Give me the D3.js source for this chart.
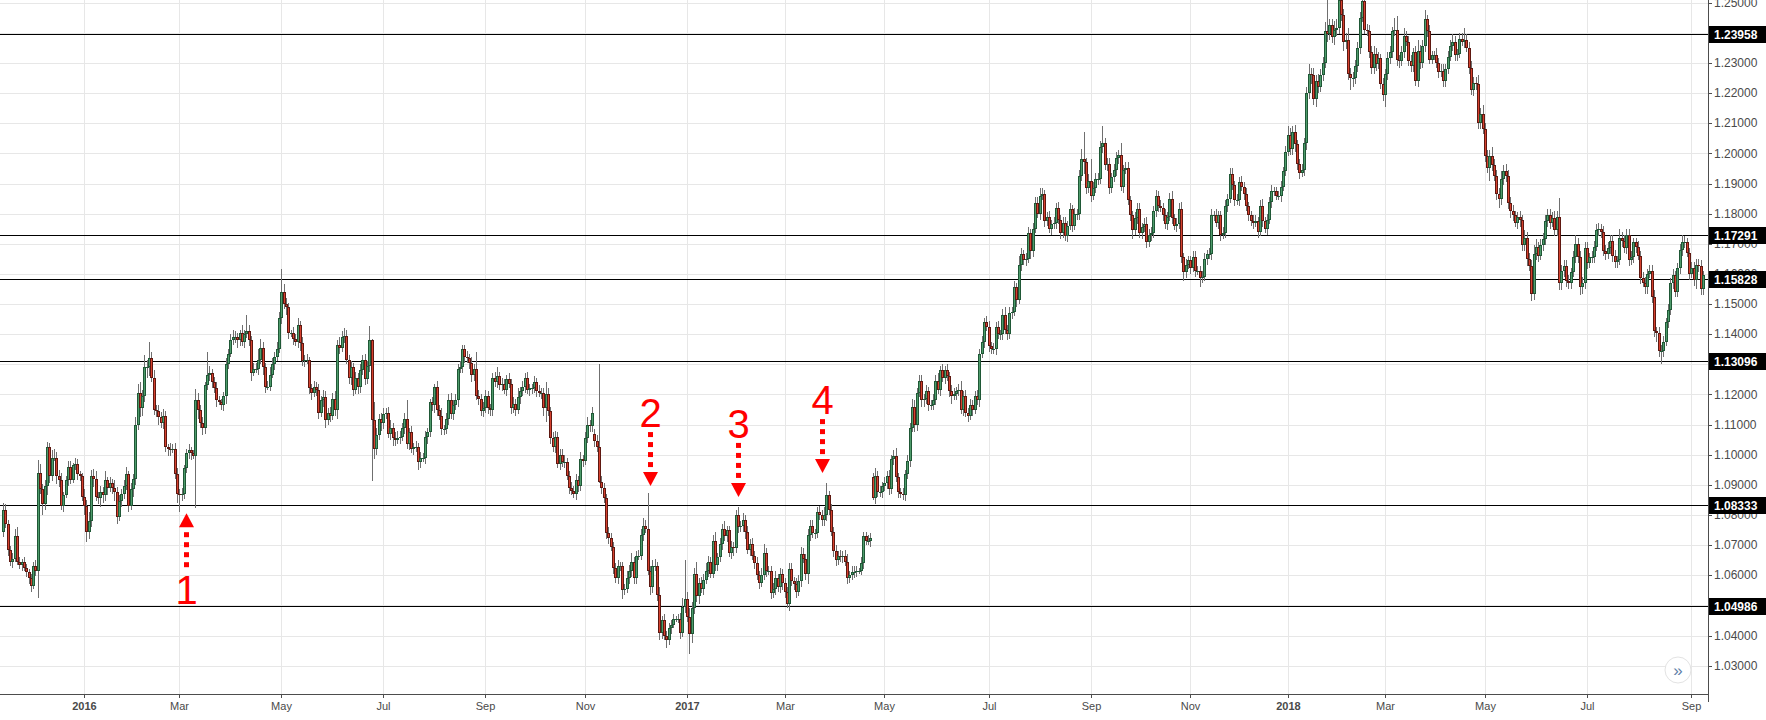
<!DOCTYPE html>
<html><head><meta charset="utf-8">
<script src="https://cdn.jsdelivr.net/npm/d3@7/dist/d3.min.js"></script>
<style>
html,body{margin:0;padding:0;background:#fff;overflow:hidden;}
svg{display:block;font-family:"Liberation Sans",Arial,sans-serif;}
</style></head><body>
<svg id="chart" width="1766" height="720"></svg>
<script>
// ---------- DATA (EUR/USD daily, prices as pips above 1.0000) ----------
const firstDay = "2015-11-12";
const lastDay = "2018-09-10";
const closedDays = ["2015-12-25", "2016-01-01", "2017-12-25", "2018-01-01"];

const opens = [
// 2015 Nov
745,815,770,685,645,655,730,645,635,645,625,610,590,
// 2015 Dec
565,630,615,940,885,835,895,1025,930,990,990,930,915,830,865,915,960,915,965,970,935,930,
// 2016 Jan
860,830,745,780,930,920,860,855,875,865,915,890,905,890,875,795,845,870,895,935,
// 2016 Feb
830,885,920,1100,1205,1155,1195,1290,1290,1320,1255,1150,1145,1125,1105,1130,1025,1020,1015,1020,935,
// 2016 Mar
870,865,870,955,1005,1015,1005,995,1180,1150,1105,1090,1230,1265,1270,1240,1220,1180,1175,1165,1195,1300,1335,
// 2016 Apr
1380,1390,1390,1380,1405,1375,1400,1410,1380,1270,1285,1285,1315,1355,1290,1225,1225,1265,1300,1325,1350,
// 2016 May
1455,1540,1500,1490,1405,1405,1385,1375,1430,1370,1310,1315,1315,1220,1205,1225,1215,1140,1180,1190,1115,1140,
// 2016 Jun
1130,1185,1150,1365,1355,1390,1395,1315,1255,1290,1215,1255,1225,1280,1315,1250,1295,1380,1115,1020,1065,1120,
// 2016 Jul
1105,1135,1140,1070,1090,1055,1050,1055,1060,1090,1120,1035,1075,1020,1025,1025,975,990,990,1060,1075,
// 2016 Aug
1175,1165,1225,1150,1130,1085,1085,1120,1180,1135,1165,1180,1285,1290,1350,1325,1320,1305,1265,1285,1195,1185,1145,
// 2016 Sep
1155,1195,1155,1150,1255,1240,1260,1230,1235,1215,1250,1235,1155,1170,1150,1190,1210,1225,1255,1215,1220,1220,
// 2016 Oct
1240,1210,1205,1205,1155,1200,1145,1055,1025,1060,970,1000,975,975,930,890,880,870,915,895,985,
// 2016 Nov
980,1055,1100,1095,1070,1045,1025,910,890,855,740,725,695,625,590,630,630,550,555,590,615,645,
// 2016 Dec
590,665,665,735,765,755,615,560,630,630,535,410,450,400,385,425,435,455,455,455,410,495,
// 2017 Jan
520,460,405,490,605,530,575,555,585,615,645,605,715,635,660,705,755,730,750,675,695,690,
// 2017 Feb
800,760,765,785,745,685,705,665,640,600,575,600,675,615,615,540,555,590,560,605,
// 2017 Mar
575,545,505,620,580,570,545,580,670,655,605,735,765,740,740,810,800,785,800,865,815,745,680,
// 2017 Apr
650,665,660,665,645,590,600,610,610,615,615,640,730,715,715,925,855,930,875,875,
// 2017 May
895,905,930,885,985,995,925,875,870,865,935,980,1090,1160,1100,1205,1245,1180,1185,1210,1165,1165,1180,
// 2017 Jun
1245,1215,1280,1255,1280,1260,1210,1195,1200,1210,1215,1150,1195,1140,1130,1165,1150,1195,1180,1335,1375,1440,
// 2017 Jul
1425,1360,1350,1350,1425,1400,1400,1465,1415,1400,1470,1475,1555,1515,1630,1665,1645,1650,1735,1675,1750,
// 2017 Aug
1835,1800,1860,1865,1775,1790,1750,1765,1770,1820,1780,1735,1770,1725,1760,1815,1760,1800,1800,1925,1980,1970,1885,
// 2017 Sep
1910,1860,1885,1915,1915,2020,2035,1960,1965,1885,1920,1945,1985,1995,1890,1945,1950,1845,1795,1745,1785,
// 2017 Oct
1815,1735,1755,1765,1705,1730,1735,1810,1860,1825,1820,1795,1765,1790,1850,1785,1760,1765,1815,1655,1605,1630,
// 2017 Nov
1645,1620,1655,1610,1610,1585,1590,1650,1665,1665,1795,1795,1770,1795,1730,1735,1825,1850,1930,1895,1845,1845,
// 2017 Dec
1905,1890,1865,1825,1795,1775,1770,1775,1740,1825,1775,1750,1780,1840,1875,1875,1860,1860,1890,1940,
// 2018 Jan
2005,2060,2015,2070,2030,1965,1935,1945,2035,2200,2265,2260,2180,2240,2220,2260,2300,2405,2395,2425,2385,2410,
// 2018 Feb
2415,2510,2460,2370,2375,2265,2250,2250,2290,2350,2450,2505,2410,2405,2335,2285,2330,2295,2315,2230,
// 2018 Mar
2195,2265,2315,2335,2405,2410,2310,2305,2335,2390,2370,2305,2290,2335,2240,2340,2300,2355,2445,2405,2310,2325,
// 2018 Apr
2325,2300,2270,2275,2240,2280,2320,2355,2370,2325,2330,2380,2370,2375,2350,2285,2210,2235,2230,2100,2130,
// 2018 May
2080,1990,1950,1990,1960,1925,1865,1850,1915,1940,1925,1835,1810,1795,1770,1790,1780,1695,1720,1650,1625,1535,1665,
// 2018 Jun
1690,1660,1695,1715,1775,1795,1770,1785,1745,1790,1570,1610,1625,1575,1570,1605,1655,1700,1655,1555,1570,
// 2018 Jul
1685,1635,1655,1655,1690,1745,1750,1740,1675,1665,1685,1710,1660,1640,1645,1720,1710,1685,1730,1645,1655,1705,
// 2018 Aug
1690,1660,1585,1570,1555,1600,1610,1525,1410,1405,1345,1345,1375,1440,1480,1570,1595,1540,1620,1680,1705,1705,1670,
// 2018 Sep
1600,1620,1580,1630,1625,1550
];

const closes = [
// 2015 Nov
815,770,685,645,655,730,645,635,645,625,610,590,565,
// 2015 Dec
630,615,940,885,835,895,1025,930,990,990,930,915,830,865,915,960,915,965,970,935,930,860,
// 2016 Jan
830,745,780,930,920,860,855,875,865,915,890,905,890,875,795,845,870,895,935,830,
// 2016 Feb
885,920,1100,1205,1155,1195,1290,1290,1320,1255,1150,1145,1125,1105,1130,1025,1020,1015,1020,935,870,
// 2016 Mar
865,870,955,1005,1015,1005,995,1180,1150,1105,1090,1230,1265,1270,1240,1220,1180,1175,1165,1195,1300,1335,1380,
// 2016 Apr
1390,1390,1380,1405,1375,1400,1410,1380,1270,1285,1285,1315,1355,1290,1225,1225,1265,1300,1325,1350,1455,
// 2016 May
1540,1500,1490,1405,1405,1385,1375,1430,1370,1310,1315,1315,1220,1205,1225,1215,1140,1180,1190,1115,1140,1130,
// 2016 Jun
1185,1150,1365,1355,1390,1395,1315,1255,1290,1215,1255,1225,1280,1315,1250,1295,1380,1115,1020,1065,1120,1105,
// 2016 Jul
1135,1140,1070,1090,1055,1050,1055,1060,1090,1120,1035,1075,1020,1025,1025,975,990,990,1060,1075,1175,
// 2016 Aug
1165,1225,1150,1130,1085,1085,1120,1180,1135,1165,1180,1285,1290,1350,1325,1320,1305,1265,1285,1195,1185,1145,1155,
// 2016 Sep
1195,1155,1150,1255,1240,1260,1230,1235,1215,1250,1235,1155,1170,1150,1190,1210,1225,1255,1215,1220,1220,1240,
// 2016 Oct
1210,1205,1205,1155,1200,1145,1055,1025,1060,970,1000,975,975,930,890,880,870,915,895,985,980,
// 2016 Nov
1055,1100,1095,1140,1045,1025,910,890,855,740,725,695,625,590,630,630,550,555,590,615,645,590,
// 2016 Dec
665,665,735,765,755,615,560,630,630,535,410,450,400,385,425,435,455,455,455,410,495,520,
// 2017 Jan
460,405,490,605,530,575,555,585,615,645,605,715,635,660,705,755,730,750,675,695,690,800,
// 2017 Feb
760,765,785,745,685,705,665,640,600,575,600,675,615,615,540,555,590,560,605,575,
// 2017 Mar
545,505,620,580,570,545,580,670,655,605,735,765,740,740,810,800,785,800,865,815,745,680,650,
// 2017 Apr
665,660,665,645,590,600,610,610,615,615,640,730,715,715,725,855,930,875,875,895,
// 2017 May
905,930,885,985,995,925,875,870,865,935,980,1090,1160,1100,1205,1245,1180,1185,1210,1165,1165,1180,1245,
// 2017 Jun
1215,1280,1255,1280,1260,1210,1195,1200,1210,1215,1150,1195,1140,1130,1165,1150,1195,1180,1335,1375,1440,1425,
// 2017 Jul
1360,1350,1350,1425,1400,1400,1465,1415,1400,1470,1475,1555,1515,1630,1665,1645,1650,1735,1675,1750,1835,
// 2017 Aug
1800,1860,1865,1775,1790,1750,1765,1770,1820,1780,1735,1770,1725,1760,1815,1760,1800,1800,1925,1980,1970,1885,1910,
// 2017 Sep
1860,1885,1915,1915,2020,2035,1960,1965,1885,1920,1945,1985,1995,1890,1945,1950,1845,1795,1745,1785,1815,
// 2017 Oct
1735,1755,1765,1705,1730,1735,1810,1860,1825,1820,1795,1765,1790,1850,1785,1760,1765,1815,1655,1605,1630,1645,
// 2017 Nov
1620,1655,1610,1610,1585,1590,1650,1665,1665,1795,1795,1770,1795,1730,1735,1825,1850,1930,1895,1845,1845,1905,
// 2017 Dec
1890,1865,1825,1795,1775,1770,1775,1740,1825,1775,1750,1780,1840,1875,1875,1860,1860,1890,1940,2005,
// 2018 Jan
2060,2015,2070,2030,1965,1935,1945,2035,2200,2265,2260,2180,2240,2220,2260,2300,2405,2395,2425,2385,2410,2415,
// 2018 Feb
2510,2460,2370,2375,2265,2250,2250,2290,2350,2450,2505,2410,2405,2335,2285,2330,2295,2315,2230,2195,
// 2018 Mar
2265,2315,2335,2405,2410,2310,2305,2335,2390,2370,2305,2290,2335,2240,2340,2300,2355,2445,2405,2310,2325,2325,
// 2018 Apr
2300,2270,2275,2240,2280,2320,2355,2370,2325,2330,2380,2370,2375,2350,2285,2210,2235,2230,2100,2130,2080,
// 2018 May
1990,1950,1990,1960,1925,1865,1850,1915,1940,1925,1835,1810,1795,1770,1790,1780,1695,1720,1650,1625,1535,1665,1690,
// 2018 Jun
1660,1695,1715,1775,1795,1770,1785,1745,1790,1570,1610,1625,1575,1570,1605,1655,1700,1655,1555,1570,1685,
// 2018 Jul
1635,1655,1655,1690,1745,1750,1740,1675,1665,1685,1710,1660,1640,1645,1720,1710,1685,1730,1645,1655,1705,1690,
// 2018 Aug
1660,1585,1570,1555,1600,1610,1525,1410,1405,1345,1345,1375,1440,1480,1570,1595,1540,1620,1680,1705,1705,1670,1600,
// 2018 Sep
1620,1580,1630,1625,1550,1595
];

// upper shadow length above the body (pips)
const wickUp = [
25,20,15,12,18,22,30,15,10,14,12,10,15,
15,20,41,28,18,22,17,15,25,30,18,20,25,12,15,20,18,8,20,15,12,10,
25,20,30,18,22,25,15,20,18,30,12,20,15,25,18,20,15,22,25,12,
20,15,25,30,35,20,40,25,55,20,25,15,20,18,22,15,12,20,15,18,20,
15,20,10,15,20,10,12,38,25,15,20,12,77,25,15,18,20,15,10,12,20,15,20,
25,20,15,10,25,15,55,20,15,20,18,35,30,20,15,20,25,20,15,25,20,
76,25,20,15,10,20,15,25,15,20,15,20,10,15,20,15,20,15,25,20,15,20,
20,25,15,25,20,25,20,15,20,15,20,15,20,15,20,15,47,5,60,25,15,20,
20,15,20,25,15,20,25,20,15,20,60,15,20,15,20,15,20,15,20,15,10,
15,10,20,15,25,15,20,20,25,15,20,15,20,15,15,20,15,20,15,55,20,15,20,
20,15,15,15,20,30,15,20,15,15,20,15,20,15,30,15,20,15,20,15,15,20,
15,20,15,15,40,20,15,20,20,15,20,20,25,15,15,20,15,20,15,25,15,
20,25,15,20,15,20,275,20,15,15,20,15,15,15,20,15,15,15,25,20,30,15,
15,20,20,25,20,119,15,20,25,15,25,15,20,15,15,15,15,10,15,20,30,132,
25,30,20,20,40,15,20,20,25,20,15,20,30,15,20,15,25,15,15,20,15,15,
25,15,20,15,20,15,20,15,20,15,25,30,15,15,15,20,25,15,20,15,
15,15,20,20,15,20,20,25,20,15,20,20,20,15,15,20,15,25,41,15,20,15,20,
15,20,15,20,25,15,20,20,15,10,20,15,15,20,15,15,25,15,20,15,
20,15,20,15,20,28,15,15,20,15,20,15,25,20,15,20,20,15,20,15,15,20,20,
25,15,20,15,20,15,20,20,15,20,30,15,20,15,20,15,15,20,15,20,15,20,
20,15,20,15,20,15,20,25,15,20,15,20,15,30,20,15,20,20,15,20,20,
20,25,20,15,15,20,15,20,15,20,15,20,20,15,20,15,20,15,20,35,90,15,20,
70,20,20,20,20,57,15,20,20,15,20,20,15,40,15,20,20,15,15,20,20,
20,15,20,25,20,20,15,20,15,20,15,20,15,20,25,15,20,20,25,15,20,15,
15,20,20,15,15,20,20,15,20,20,15,20,15,15,20,20,15,20,20,15,20,15,
20,15,20,15,15,20,20,15,20,25,15,20,15,20,15,15,15,20,15,20,
30,25,20,25,15,15,20,15,20,30,20,25,20,25,20,20,30,132,20,20,30,30,
35,30,20,25,40,20,20,20,20,20,50,20,20,20,20,25,20,20,15,20,
15,20,20,15,40,45,15,20,25,15,20,20,15,20,35,20,20,30,15,20,15,15,
25,15,20,20,15,20,20,25,20,15,20,20,40,20,20,20,20,20,30,20,30,
20,20,20,30,20,20,20,25,20,25,20,20,20,15,15,20,15,25,20,20,20,30,25,
15,20,20,20,20,20,20,25,20,62,20,20,20,20,15,20,30,20,20,20,20,
20,15,20,20,20,20,15,20,20,20,20,20,20,15,30,20,20,20,20,20,15,15,
20,15,20,20,15,20,20,20,15,20,20,20,15,20,15,20,15,15,20,25,20,15,15,
20,20,20,20,20,15
];

// lower shadow length below the body (pips)
const wickDown = [
18,12,20,15,22,10,12,14,20,10,15,18,20,
12,18,90,15,35,20,30,25,18,12,28,22,15,20,10,18,12,10,15,20,18,14,
30,35,25,20,28,15,20,30,25,18,22,15,20,30,25,15,20,18,12,20,
15,25,20,18,30,25,20,35,30,15,18,20,25,15,20,15,25,18,10,15,30,
55,20,18,15,20,22,10,173,30,15,25,20,15,20,18,15,20,10,15,20,25,15,12,
15,20,25,20,15,20,12,20,25,10,15,20,15,25,20,10,15,12,20,15,12,
20,15,25,20,15,20,15,20,25,15,20,15,20,25,15,20,20,15,20,25,15,20,
15,20,30,20,15,20,15,20,25,20,15,25,20,15,20,15,20,203,35,20,15,25,
20,15,15,20,25,20,15,20,15,20,15,20,15,20,15,25,20,15,20,25,15,
20,25,20,15,20,20,15,20,15,20,15,20,15,20,20,15,20,25,20,15,20,15,20,
15,20,20,20,15,20,15,20,15,20,15,20,15,20,15,20,15,20,15,20,20,15,
20,15,20,25,45,15,20,15,20,15,20,15,20,15,20,15,15,20,20,15,20,
15,15,20,20,20,15,5,20,15,20,20,15,20,15,20,15,30,15,15,20,20,20,
20,15,15,20,15,15,25,20,15,20,25,20,15,25,15,20,10,10,15,20,15,20,
15,65,30,20,20,25,15,20,15,20,15,15,20,20,15,20,15,20,15,20,25,15,
20,15,20,25,15,20,15,20,15,20,15,15,20,15,20,15,20,15,20,25,
20,15,25,15,20,20,15,20,15,20,35,20,15,20,15,15,20,20,20,15,15,20,20,
15,15,20,15,20,15,15,20,15,10,15,20,15,15,20,5,20,15,15,20,
15,20,20,15,20,15,20,15,15,20,15,20,15,25,20,15,20,20,15,20,15,15,15,
15,20,15,20,15,20,25,15,20,15,15,20,15,20,15,20,15,15,20,15,20,15,
20,15,15,20,15,20,20,15,20,15,20,15,25,15,20,15,20,15,25,20,15,
15,20,15,20,15,15,20,15,20,15,20,15,15,20,15,20,15,20,20,15,40,20,15,
20,15,15,20,15,20,15,20,20,15,15,20,20,15,20,15,15,20,30,15,20,
15,20,15,20,15,20,15,20,20,15,20,15,20,15,20,15,20,15,20,30,20,15,
20,15,20,15,30,15,15,20,15,20,20,15,20,20,15,15,20,15,15,20,15,20,
15,20,15,20,15,20,15,20,15,20,15,20,15,20,15,15,15,20,15,15,
15,20,20,25,20,20,15,20,25,20,30,20,25,20,15,20,15,25,20,20,25,20,
20,20,30,25,20,40,30,20,20,20,15,15,15,20,20,20,20,15,15,20,
40,20,20,20,15,20,20,15,20,15,15,20,20,15,20,20,15,20,20,15,15,15,
15,20,15,20,20,15,15,15,20,20,15,15,20,15,20,15,20,20,20,20,15,
20,15,40,20,15,20,30,20,20,20,20,25,20,15,20,25,20,20,25,15,25,20,20,
20,15,20,20,20,20,15,20,20,25,25,20,20,20,20,15,20,20,25,20,20,
20,15,20,20,15,20,20,15,20,15,20,20,20,20,15,20,15,20,20,15,20,20,
15,20,15,20,20,15,20,20,30,20,44,20,15,20,15,20,15,15,20,20,20,15,20,
15,20,30,20,20,20
];

// horizontal support / resistance levels drawn on the chart
const levels = [1.23958, 1.17291, 1.15828, 1.13096, 1.08333, 1.04986];

// price-axis tick values
const priceTicks = [1.03,1.04,1.05,1.06,1.07,1.08,1.09,1.10,1.11,1.12,1.13,1.14,1.15,1.16,1.17,1.18,1.19,1.20,1.21,1.22,1.23,1.24,1.25];

// numbered arrow annotations
const markerLabels = ["1", "2", "3", "4"];
const markerDates  = ["2016-03-04", "2016-12-09", "2017-02-01", "2017-03-23"];
const markerTips   = [1.0806, 1.0896, 1.0860, 1.0939];
const markerDirs   = ["up", "down", "down", "down"];

// ---------- BUILD ----------
const W = 1766, H = 720;
const plotR = 1708, plotB = 694;
const barStep = 2.319, firstBarX = 3;

const parse = d3.timeParse("%Y-%m-%d");
const fmt = d3.timeFormat("%Y-%m-%d");
const dates = [];
for (let d = parse(firstDay); d <= parse(lastDay); d = d3.timeDay.offset(d, 1)) {
  const wd = d.getDay();
  if (wd === 0 || wd === 6) continue;
  if (closedDays.includes(fmt(d))) continue;
  dates.push(d);
}
const N = Math.min(dates.length, opens.length, closes.length, wickUp.length, wickDown.length);
const bars = d3.range(N).map(i => {
  const o = 1 + opens[i] / 1e4, c = 1 + closes[i] / 1e4;
  return { i, date: dates[i], o, c,
    h: Math.max(o, c) + wickUp[i] / 1e4,
    l: Math.min(o, c) - wickDown[i] / 1e4 };
});

const x = d3.scaleLinear().domain([0, N - 1]).range([firstBarX, firstBarX + (N - 1) * barStep]);
const y = d3.scaleLinear().domain([1.0206, 1.2509]).range([plotB, 0]);

const svg = d3.select("#chart");
svg.append("rect").attr("width", W).attr("height", H).attr("fill", "#fff");

svg.append("defs").append("clipPath").attr("id", "plotclip")
  .append("rect").attr("x", 0).attr("y", 0).attr("width", plotR).attr("height", plotB);

// month ticks: first bar of Jan/Mar/May/Jul/Sep/Nov
const monthTicks = bars.filter((b, k) => k > 0 && b.date.getMonth() !== bars[k - 1].date.getMonth() && b.date.getMonth() % 2 === 0);

const grid = svg.append("g").attr("shape-rendering", "crispEdges");
grid.selectAll("line.h").data(priceTicks).join("line")
  .attr("x1", 0).attr("x2", plotR)
  .attr("y1", d => Math.round(y(d)) + 0.5).attr("y2", d => Math.round(y(d)) + 0.5)
  .attr("stroke", "#e7e7e7").attr("stroke-width", 1);
grid.selectAll("line.v").data(monthTicks).join("line")
  .attr("x1", d => Math.round(x(d.i)) + 0.5).attr("x2", d => Math.round(x(d.i)) + 0.5)
  .attr("y1", 0).attr("y2", plotB)
  .attr("stroke", "#e7e7e7").attr("stroke-width", 1);

// level lines
const lv = svg.append("g").attr("shape-rendering", "crispEdges");
lv.selectAll("line").data(levels).join("line")
  .attr("x1", 0).attr("x2", plotR)
  .attr("y1", d => Math.round(y(d)) + 0.5).attr("y2", d => Math.round(y(d)) + 0.5)
  .attr("stroke", "#000").attr("stroke-width", 1.2);

// candles
const UP_FILL = "#4e9b6b", UP_EDGE = "#1f5836", DN_FILL = "#d5412e", DN_EDGE = "#5e1811", WICK = "#6f6f6f";
const cg = svg.append("g").attr("clip-path", "url(#plotclip)").attr("shape-rendering", "crispEdges");
const px = i => Math.round(x(i));
cg.selectAll("rect.wick").data(bars).join("rect").attr("class", "wick")
  .attr("x", d => px(d.i)).attr("width", 1)
  .attr("y", d => Math.round(y(d.h)))
  .attr("height", d => Math.max(1, Math.round(y(d.l)) - Math.round(y(d.h))))
  .attr("fill", WICK);
const bodyTop = d => Math.round(y(Math.max(d.o, d.c)));
const bodyH = d => Math.max(1, Math.round(y(Math.min(d.o, d.c))) - bodyTop(d));
const bodies = cg.selectAll("g.body").data(bars).join("g").attr("class", "body");
bodies.append("rect")
  .attr("x", d => px(d.i) - 1).attr("width", 3)
  .attr("y", bodyTop).attr("height", bodyH)
  .attr("fill", d => d.c >= d.o ? UP_EDGE : DN_EDGE);
bodies.filter(d => bodyH(d) >= 3).append("rect")
  .attr("x", d => px(d.i)).attr("width", 1)
  .attr("y", d => bodyTop(d) + 1).attr("height", d => bodyH(d) - 2)
  .attr("fill", d => d.c >= d.o ? UP_FILL : DN_FILL);

// axes frame
const frame = svg.append("g").attr("shape-rendering", "crispEdges");
frame.append("line").attr("x1", 0).attr("x2", plotR + 1).attr("y1", plotB + 0.5).attr("y2", plotB + 0.5)
  .attr("stroke", "#4d4d4d").attr("stroke-width", 1);
frame.append("line").attr("x1", plotR + 0.5).attr("x2", plotR + 0.5).attr("y1", 0).attr("y2", plotB + 8)
  .attr("stroke", "#4d4d4d").attr("stroke-width", 1);

// price axis ticks & labels
const pa = svg.append("g");
pa.selectAll("line").data(priceTicks).join("line")
  .attr("shape-rendering", "crispEdges")
  .attr("x1", plotR).attr("x2", plotR + 4)
  .attr("y1", d => Math.round(y(d)) + 0.5).attr("y2", d => Math.round(y(d)) + 0.5)
  .attr("stroke", "#4d4d4d");
pa.selectAll("text").data(priceTicks).join("text")
  .attr("x", plotR + 6).attr("y", d => y(d)).attr("dy", "0.35em")
  .attr("font-size", 12).attr("fill", "#4a4a4a")
  .text(d => d3.format(".5f")(d));

// level labels on axis
const ll = svg.append("g");
ll.selectAll("rect").data(levels).join("rect")
  .attr("shape-rendering", "crispEdges")
  .attr("x", plotR + 1).attr("width", W - plotR - 1)
  .attr("y", d => Math.round(y(d)) - 8).attr("height", 17)
  .attr("fill", "#000");
ll.selectAll("text").data(levels).join("text")
  .attr("x", plotR + 6).attr("y", d => Math.round(y(d)) + 0.5).attr("dy", "0.36em")
  .attr("font-size", 12).attr("font-weight", "bold").attr("fill", "#fff")
  .text(d => d3.format(".5f")(d));

// time axis
const ta = svg.append("g");
ta.selectAll("line").data(monthTicks).join("line")
  .attr("shape-rendering", "crispEdges")
  .attr("x1", d => Math.round(x(d.i)) + 0.5).attr("x2", d => Math.round(x(d.i)) + 0.5)
  .attr("y1", plotB).attr("y2", plotB + 4)
  .attr("stroke", "#4d4d4d");
ta.selectAll("text").data(monthTicks).join("text")
  .attr("x", d => Math.round(x(d.i)) + 0.5).attr("y", 710)
  .attr("text-anchor", "middle").attr("font-size", 11)
  .attr("font-weight", d => d.date.getMonth() === 0 ? "bold" : "normal")
  .attr("fill", "#4a4a4a")
  .text(d => d.date.getMonth() === 0 ? d3.timeFormat("%Y")(d.date) : d3.timeFormat("%b")(d.date));

// arrow annotations
const markers = markerLabels.map((t, k) => {
  const idx = bars.findIndex(b => fmt(b.date) === markerDates[k]);
  return { t, i: idx, tip: markerTips[k], dir: markerDirs[k] };
});
const ag = svg.append("g");
markers.forEach(m => {
  const cx = Math.round(x(m.i)) + 0.5;
  const ty = y(m.tip);
  const s = m.dir === "down" ? -1 : 1;
  ag.append("path")
    .attr("d", `M${cx},${ty} L${cx - 7.5},${ty + s * 14} L${cx + 7.5},${ty + s * 14} Z`)
    .attr("fill", "#ff0000");
  for (let k = 0; k < 4; k++) {
    const top = m.dir === "down" ? ty - 24 - 10 * k : ty + 19 + 10 * k;
    ag.append("rect").attr("x", cx - 2.5).attr("y", top).attr("width", 5).attr("height", 5).attr("fill", "#ff0000");
  }
  ag.append("text")
    .attr("x", cx).attr("y", m.dir === "down" ? ty - 59 : ty + 91)
    .attr("text-anchor", "middle").attr("font-size", 40).attr("fill", "#ff0000")
    .text(m.t);
});

// scroll-to-realtime button
const btn = svg.append("g");
btn.append("circle").attr("cx", 1678).attr("cy", 670).attr("r", 13)
  .attr("fill", "#fff").attr("stroke", "#e3e3e3").attr("stroke-width", 1);
btn.append("text").attr("x", 1678).attr("y", 670).attr("dy", "0.35em")
  .attr("text-anchor", "middle").attr("font-size", 17).attr("fill", "#5f7fa8").text("»");
</script>
</body></html>
